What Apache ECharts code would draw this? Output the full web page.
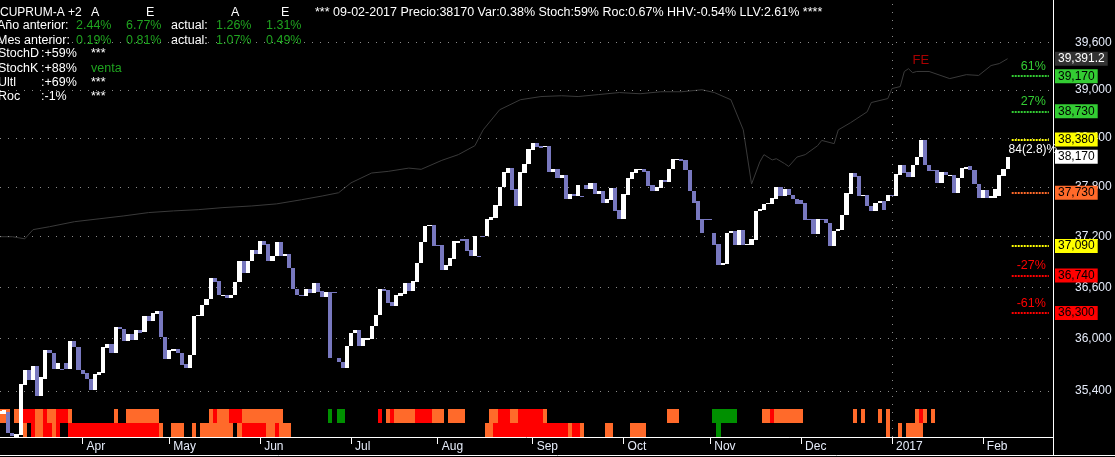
<!DOCTYPE html>
<html><head><meta charset="utf-8">
<script src="https://cdn.jsdelivr.net/npm/echarts@6.0.0/dist/echarts.min.js"></script>
<style>html,body{margin:0;padding:0;background:#000;}#c{width:1115px;height:457px;}</style>
</head><body><div id="c"></div>
<script>
// ---------------- DATA ----------------
const startDate = '2016-03-04';
const slotCount = 256;
const monthNames = ['Jan','Feb','Mar','Apr','May','Jun','Jul','Aug','Sep','Oct','Nov','Dec'];

// daily open / close (index = trading day from startDate)
const openVals = [35140,35140,35165,34930,34880,34900,35465,35635,35520,35680,35345,35540,35865,35840,35650,35655,35725,35655,35970,35905,
35645,35600,35540,35415,35580,35610,35895,35935,35835,36140,36115,35970,36060,35990,36105,36075,36265,36200,36290,36325,
36015,35770,35855,35885,35840,35705,35660,35810,36260,36260,36390,36460,36705,36670,36495,36515,36475,36515,36665,36910,
36770,36905,37045,36995,37150,37110,36905,36965,37135,36965,36995,36825,36575,36515,36500,36585,36530,36645,36555,36490,
36540,36540,35780,35735,35665,35920,36065,36105,35915,35990,36000,36145,36270,36575,36565,36430,36385,36500,36520,36645,
36555,36665,36885,37135,37325,37345,37105,37105,36810,36855,36935,37130,37175,37175,37045,36965,36965,37210,37205,37405,
37430,37570,37805,37970,38035,37770,37565,37970,38075,38255,38335,38295,38285,38305,37985,38015,37910,37945,37650,37715,
37695,37695,37825,37775,37845,37710,37745,37605,37645,37785,37515,37410,37705,37895,37975,38005,38025,37995,37825,37755,
37790,37890,37865,38015,38130,38145,38125,38010,37750,37625,37410,37410,37410,37250,37115,36865,36875,37245,37270,37105,
37285,37105,37105,37165,37505,37525,37595,37595,37655,37795,37685,37770,37705,37655,37645,37605,37415,37410,37235,37410,
37410,37365,37085,37265,37285,37455,37720,37975,37930,37695,37705,37570,37505,37605,37630,37625,37700,37695,37945,38065,
37985,37925,38065,38165,38375,38070,38005,38005,37850,37985,37945,37950,37725,37905,38025,38050,38005,37830,37665,37765,
37665,37665,37685,37935,38015];
const closeVals = [35170,35180,34920,34890,34910,35475,35635,35520,35680,35345,35555,35865,35835,35650,35725,35650,35655,35970,35905,35640,
35595,35540,35415,35590,35620,35900,35935,35835,36140,36110,35970,36060,35990,36105,36070,36265,36200,36300,36325,36015,
35770,35870,35885,35840,35695,35660,35815,36265,36280,36390,36460,36705,36665,36505,36515,36475,36515,36665,36910,36770,
36905,37045,36995,37150,37105,36905,36970,37135,36965,36995,36825,36575,36515,36500,36585,36530,36645,36545,36490,36545,
35780,36540,35735,35665,35920,36070,36105,35915,36010,36010,36145,36280,36575,36555,36420,36385,36510,36530,36645,36555,
36670,36885,37135,37330,37345,37090,37085,36810,36865,36945,37145,37150,37145,37035,36965,37210,36965,37195,37410,37435,
37580,37805,37980,38035,37765,37565,37980,38085,38265,38335,38285,38275,38305,37985,38015,37910,37945,37650,37715,37695,
37825,37695,37775,37845,37710,37745,37605,37655,37785,37505,37410,37715,37905,37985,38025,38025,37985,37815,37755,37795,
37890,37865,38025,38145,38145,38115,38010,37745,37610,37405,37245,37410,37410,37105,36865,36890,37250,37270,37105,37285,
37105,37115,37170,37510,37530,37595,37605,37665,37795,37685,37770,37705,37655,37595,37590,37405,37395,37235,37410,37410,
37365,37085,37265,37295,37465,37730,37975,37925,37695,37705,37565,37505,37605,37630,37525,37705,37700,37955,38065,37970,
37925,38070,38170,38375,38065,37995,37995,37850,37985,37945,37950,37725,37915,38035,38045,38005,37830,37665,37765,37665,
37685,37770,37945,38025,38170];

// comparison line (thin grey)
const grayIdx = [0,3,6,8,12,18,24,30,36,42,48,54,61,67,73,78,82,85,90,94,99,102,107,111,115,117,121,126,131,136,140,145,150,155,160,165,170,173,177,180,182,184,185,187,188,190,191,193,195,198,199,202,203,206,210,211,215,216,218,219,220,221,222,225,230,232,234,237,240,242,244];
const grayVal = [37200,37200,37175,37285,37320,37380,37415,37450,37490,37510,37525,37550,37570,37595,37645,37690,37730,37850,37970,37990,38030,38015,38125,38195,38305,38500,38750,38875,38915,38925,38915,38940,38965,38950,38975,38975,39000,38965,38875,38500,37835,38105,38195,38130,38145,38085,38050,38165,38195,38305,38370,38330,38500,38590,38725,38840,38890,39015,39040,39230,39265,39215,39230,39230,39140,39165,39190,39180,39305,39330,39391.2];

// price-axis tick labels
const gridTicks = [35400,36000,36600,37200,37800,38400,39000,39600];

// level lines on the right
const levelVals = [39170,38730,38380,37730,37090,36740,36300];
const levelPct  = ['61%','27%','','','','-27%','-61%'];
const levelKind = ['up','up','mid','pivot','mid','down','down'];
const lastIndexValue = 39391.2;
const lastPrice = 38170;
const lastPriceNote = '84(2.8)%';
const feNote = {idx: 223, value: 39366, text: 'FE'};

// indicator band rows: [startIdx, endIdx, code]  O=orange R=red G=green
const bandTop = [[0,2,'O'],[4,4,'O'],[5,8,'R'],[9,10,'O'],[11,11,'R'],[12,13,'O'],[14,16,'R'],[17,17,'O'],[28,28,'O'],[31,38,'O'],
[51,51,'O'],[52,52,'R'],[53,55,'O'],[56,58,'R'],[59,68,'O'],[80,80,'G'],[82,83,'G'],[92,92,'R'],[94,94,'O'],[95,95,'R'],[96,100,'O'],
[101,104,'R'],[105,107,'O'],[109,112,'O'],[119,120,'O'],[121,123,'R'],[124,125,'O'],[126,131,'R'],[132,132,'O'],[162,164,'O'],
[173,178,'G'],[185,186,'O'],[187,187,'R'],[188,194,'O'],[207,207,'O'],[209,209,'O'],[213,213,'O'],[215,215,'O'],[222,222,'O'],
[223,223,'R'],[224,224,'O'],[226,226,'O']];
const bandBottom = [[6,6,'O'],[8,8,'R'],[9,10,'O'],[11,12,'R'],[13,13,'O'],[14,14,'R'],[17,38,'R'],[39,39,'O'],[42,44,'O'],[47,47,'O'],
[49,56,'O'],[58,58,'O'],[59,64,'R'],[65,66,'O'],[67,67,'R'],[68,70,'O'],[118,119,'O'],[120,137,'R'],[138,138,'O'],[139,140,'R'],
[141,141,'O'],[147,148,'O'],[153,156,'O'],[174,174,'G'],[215,215,'O'],[218,218,'O'],[220,223,'O']];

// header texts
const titleName = 'CUPRUM-A +2';
const colHeads = ['A','E','A','E'];
const statusText = '*** 09-02-2017 Precio:38170 Var:0.38% Stoch:59% Roc:0.67% HHV:-0.54% LLV:2.61% ****';
const perfRows = [['Año anterior:','2.44%','6.77%','actual:','1.26%','1.31%'],
                  ['Mes anterior:','0.19%','0.81%','actual:','1.07%','0.49%']];
const indRows = [['StochD',':+59%','***'],['StochK',':+88%','venta'],['Ultl',':+69%','***'],['Roc',':-1%','***']];

// ---------------- BUILD ----------------
const FONT = '"Liberation Sans", Arial, sans-serif';
const WHITE = '#ffffff', GREEN_T = '#1fa31f', AXT = '#e6ecfa';
const bandColor = {O:'#ff6a2a', R:'#ff0000', G:'#009000'};
const kindColor = {up:'#33cc33', mid:'#ffff00', pivot:'#ff6a2a', down:'#ff0000'};

const dates = [];
(function(){
  let t = Date.parse(startDate + 'T00:00:00Z');
  while (dates.length < slotCount) {
    const d = new Date(t); const wd = d.getUTCDay();
    if (wd !== 0 && wd !== 6) dates.push(d.toISOString().slice(0,10));
    t += 86400000;
  }
})();
const isMonthStart = (i) => i > 0 && dates[i].slice(5,7) !== dates[i-1].slice(5,7);
const monthLabel = (v) => { const m = +v.slice(5,7); return m === 1 ? v.slice(0,4) : monthNames[m-1]; };
function fmt(v){
  const s = String(v); const parts = s.split('.');
  parts[0] = parts[0].replace(/\B(?=(\d{3})+(?!\d))/g, ',');
  return parts.join('.');
}

const priceData = openVals.map((o,i) => [i, o, closeVals[i]]);
const bandData = [];
[bandTop, bandBottom].forEach((segs,row) => segs.forEach(s => { for (let i=s[0]; i<=s[1]; i++) bandData.push([i, row, s[2]]); }));
const grayData = grayIdx.map((j,k) => [j, grayVal[k]]);
const yearIdx = dates.indexOf('2017-01-02');

const dotted = {color:'#8a8a8a', type:[1,7], width:1};
const clear = {color:'rgba(0,0,0,0)', width:0};
const ml = [];
gridTicks.forEach(v => ml.push({yAxis:v, lineStyle:dotted,
  label:{show:true, position:'end', distance:22, formatter:fmt(v), color:AXT, fontSize:12, fontFamily:FONT}}));
ml.push({xAxis: dates[yearIdx], lineStyle:dotted, label:{show:false}});
const segStart = 245, segEnd = slotCount - 2;
levelVals.forEach((v,k) => {
  const c = kindColor[levelKind[k]];
  ml.push([{coord:[segStart, v], lineStyle:{color:c, type:[2,1], width:2},
    label:{show: !!levelPct[k], position:'insideEndTop', distance:3, formatter: levelPct[k] || ' ', color:c, fontSize:12.5, fontFamily:FONT}},
    {coord:[segEnd, v]}]);
});
ml.push([{coord:[244, lastPrice], lineStyle:clear,
  label:{show:true, position:'insideStartTop', distance:1, formatter:lastPriceNote, color:'#ffffff', fontSize:12, fontFamily:FONT}},
  {coord:[segEnd, lastPrice]}]);
const boxes = [[lastIndexValue,'#333333','#ffffff']];
levelVals.forEach((v,k) => boxes.push([v, kindColor[levelKind[k]], '#000000']));
boxes.push([lastPrice,'#ffffff','#000000']);
boxes.forEach(b => ml.push({yAxis:b[0], lineStyle:clear,
  label:{show:true, position:'end', distance:2, formatter:fmt(b[0]), color:b[2], backgroundColor:b[1],
         padding:[1,3,0,3], lineHeight:13, fontSize:12, fontFamily:FONT}}));

function clipTo(params, r){
  const cs = params.coordSys;
  return echarts.graphic.clipRectByRect(r, {x:cs.x, y:cs.y, width:cs.width, height:cs.height});
}
function renderPrice(params, api){
  const i = api.value(0), o = api.value(1), c = api.value(2);
  const p0 = api.coord([i, o]), p1 = api.coord([i, c]);
  const bw = api.size([1, 0])[0];
  const x0 = Math.round(p0[0] - bw/2), x1 = Math.round(p0[0] + bw/2);
  let top = Math.round(Math.min(p0[1], p1[1])), bot = Math.round(Math.max(p0[1], p1[1]));
  if (bot - top < 1) bot = top + 1;
  const shape = clipTo(params, {x:x0, y:top, width:x1-x0, height:bot-top});
  return shape && {type:'rect', shape, style:{fill: c > o ? '#ffffff' : '#7878bf'}};
}
function renderBand(params, api){
  const i = api.value(0), row = api.value(1), code = bandData[params.dataIndex][2];
  const p = api.coord([i, 0.5]);
  const bw = api.size([1, 0])[0];
  const cs = params.coordSys;
  const x0 = Math.round(p[0] - bw/2), x1 = Math.round(p[0] + bw/2);
  const y0 = cs.y + cs.height - 28 + row*14;
  const shape = clipTo(params, {x:x0, y:y0, width:x1-x0, height:14});
  return shape && {type:'rect', shape, style:{fill: bandColor[code]}};
}

// header graphics
const g = [];
function txt(s, x, y, color, size){ g.push({type:'text', x, y, silent:true,
  style:{text:s, fill:color, font:(size||12.5)+'px '+FONT, verticalAlign:'middle', textVerticalAlign:'middle'}}); }
txt(titleName, 0, 13, WHITE, 12);
[91,146,231,281].forEach((x,k) => txt(colHeads[k], x, 13, WHITE));
txt(statusText, 315, 13, WHITE);
const perfX = [-3,76,126,171,216,266], perfC = [WHITE,GREEN_T,GREEN_T,WHITE,GREEN_T,GREEN_T];
perfRows.forEach((r,ri) => r.forEach((s,ci) => txt(s, perfX[ci], [26,41][ri], perfC[ci])));
const indX = [-2,41,91], indY = [54,69,83,97];
indRows.forEach((r,ri) => r.forEach((s,ci) => txt(s, indX[ci], indY[ri], (ci===2 && s!=='***') ? GREEN_T : WHITE)));
g.push({type:'line', silent:true, shape:{x1:1053.5,y1:0,x2:1053.5,y2:456}, style:{stroke:'#ffffff', lineWidth:1}});
g.push({type:'line', silent:true, shape:{x1:0,y1:455.5,x2:1115,y2:455.5}, style:{stroke:'#ffffff', lineWidth:1}});

const chart = echarts.init(document.getElementById('c'), null, {renderer:'canvas'});
chart.setOption({
  backgroundColor:'#000000',
  animation:false,
  grid:{left:0, right:62, top:0, bottom:20, containLabel:false},
  xAxis:{type:'category', data:dates, boundaryGap:false,
    axisLine:{show:true, lineStyle:{color:'#ffffff', width:1}},
    axisTick:{show:true, interval:(i)=>isMonthStart(i), length:7, lineStyle:{color:'#ffffff'}},
    axisLabel:{show:true, interval:(i)=>isMonthStart(i), formatter:monthLabel, color:AXT, fontSize:12, fontFamily:FONT,
               align:'left', padding:[0,0,0,4], margin:4},
    splitLine:{show:false}},
  yAxis:[{type:'log', logBase:10, min:34880, max:40142, show:false, position:'right'},
         {type:'value', min:0, max:1, show:false}],
  series:[
    {type:'line', name:'ref', data:grayData, showSymbol:false, symbol:'none', z:3, silent:true,
     lineStyle:{color:'#3a3a3a', width:1},
     markLine:{symbol:['none','none'], silent:true, animation:false, data:ml},
     markPoint:{silent:true, animation:false, data:[{coord:[feNote.idx, feNote.value], symbol:'rect', symbolSize:1,
       itemStyle:{color:'rgba(0,0,0,0)'}, label:{show:true, position:'inside', formatter:feNote.text, color:'#a80000', fontSize:13, fontFamily:FONT}}]}},
    {type:'custom', name:'bands', yAxisIndex:1, data:bandData.map(d=>[d[0], d[1]]), renderItem:renderBand, z:8, silent:true,
     encode:{x:0, y:1}},
    {type:'custom', name:'price', data:priceData, renderItem:renderPrice, z:10, silent:true,
     encode:{x:0, y:[1,2]}}
  ],
  graphic:g
});
</script></body></html>
